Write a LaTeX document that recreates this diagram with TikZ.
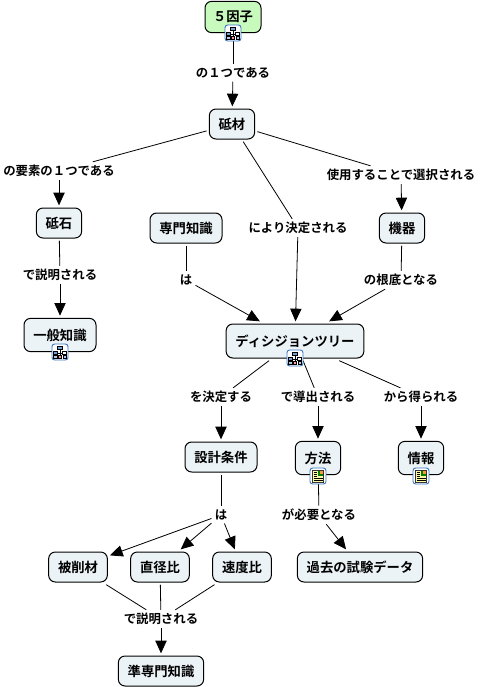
\documentclass[tikz,border=0pt]{standalone}
\usepackage{fontspec}
\setmainfont{Noto Sans CJK JP Bold}
\usetikzlibrary{arrows.meta}
\definecolor{conceptfill}{RGB}{236,243,246}
\definecolor{rootfill}{RGB}{200,250,190}
\definecolor{iconblue}{RGB}{58,118,190}
\tikzset{
  treeicon/.pic={
    \draw[iconblue,fill=white,line width=0.7pt,rounded corners=2pt] (-8,-8) rectangle (8,8);
    \draw[line width=0.4pt] (0,-3) -- (0,1) (-4.5,1) -- (4.5,1) (-4.5,1) -- (-4.5,2) (4.5,1) -- (4.5,2) (0,1) -- (0,3);
    \draw[line width=0.4pt,fill=iconblue!70] (-2.5,-6) rectangle (2.5,-3);
    \draw[line width=0.4pt,fill=iconblue!70] (-6.5,-1) rectangle (-2.5,2);
    \draw[line width=0.4pt,fill=white] (2.5,-1) rectangle (6.5,2);
    \draw[line width=0.4pt,fill=iconblue!40] (-6.5,3.5) rectangle (-3,6);
    \draw[line width=0.4pt,fill=red!40] (-1.5,3) rectangle (1.5,6);
    \draw[line width=0.4pt,fill=iconblue!40] (3,3.5) rectangle (6.5,6);
  },
  docicon/.pic={
    \draw[iconblue,fill=white,line width=0.7pt,rounded corners=2pt] (-8,-8) rectangle (8,8);
    \draw[black!80,fill=yellow!35,line width=0.4pt] (-5.5,-6) rectangle (5.5,6);
    \fill[green!50!black] (0,-5) rectangle (5,0);
    \fill[orange!80] (2,-5) rectangle (5,-2.5);
    \draw[line width=0.4pt] (-4.5,-4) -- (-1,-4) (-4.5,-2) -- (-1,-2) (-4.5,0) -- (-1,0) (-4.5,2) -- (4.5,2) (-4.5,4) -- (4.5,4);
  }
}
\begin{document}
\begin{tikzpicture}[x=0.75pt,y=-0.75pt,line width=0.6pt,
    concept/.style={draw,fill=conceptfill,rounded corners=5pt,line width=0.75pt,font=\fontsize{10}{12}\selectfont,minimum height=22.5pt,inner xsep=7pt,inner ysep=2pt,outer sep=2pt},
    linklabel/.style={font=\fontsize{9.3}{11}\selectfont,inner sep=1.5pt,outer sep=1pt},
    arrowline/.style={-{Triangle[width=8.5pt,length=9.5pt]}}]
  \useasboundingbox (0,0) rectangle (480,687);
  \node[concept,fill=rootfill,minimum height=23.5pt,inner xsep=6pt] (root) at (233,17) {５因子};
  \node[linklabel] (l1) at (233,73) {の１つである};
  \node[concept] (toizai) at (232,124) {砥材};
  \node[linklabel] (l2) at (59,171) {の要素の１つである};
  \node[linklabel] (l3) at (401,175) {使用することで選択される};
  \node[linklabel] (l4) at (298,228) {により決定される};
  \node[concept] (toishi) at (59,223) {砥石};
  \node[concept] (senmon) at (186,228) {専門知識};
  \node[concept] (kiki) at (402,228) {機器};
  \node[linklabel] (l5) at (60,275) {で説明される};
  \node[linklabel] (l6) at (186,280) {は};
  \node[linklabel] (l7) at (401,280) {の根底となる};
  \node[concept,minimum height=25pt] (ippan) at (60,335) {一般知識};
  \node[concept,minimum height=25.5pt] (tree) at (295,341) {ディシジョンツリー};
  \node[linklabel] (l8) at (221,397) {を決定する};
  \node[linklabel] (l9) at (318,397) {で導出される};
  \node[linklabel] (l10) at (421,397) {から得られる};
  \node[concept] (sekkei) at (221,457) {設計条件};
  \node[concept,minimum height=25pt] (houhou) at (318,458) {方法};
  \node[concept,minimum height=25pt] (jouhou) at (421,458) {情報};
  \node[linklabel] (l11) at (221,515) {は};
  \node[linklabel] (l12) at (319,515) {が必要となる};
  \node[concept] (hisaku) at (78,567) {被削材};
  \node[concept] (chokkei) at (160,567) {直径比};
  \node[concept] (sokudo) at (242,567) {速度比};
  \node[concept] (kako) at (360,567) {過去の試験データ};
  \node[linklabel] (l13) at (161,619) {で説明される};
  \node[concept] (jun) at (161,671) {準専門知識};
  \draw (root) -- (l1);
  \draw[arrowline] (l1) -- (toizai);
  \draw (toizai) -- (l2);
  \draw (toizai) -- (l3);
  \draw (toizai) -- (l4);
  \draw[arrowline] (l2) -- (toishi);
  \draw[arrowline] (l3) -- (kiki);
  \draw[arrowline] (l4) -- (tree);
  \draw (toishi) -- (l5);
  \draw[arrowline] (l5) -- (ippan);
  \draw (senmon) -- (l6);
  \draw[arrowline] (l6) -- (tree);
  \draw (kiki) -- (l7);
  \draw[arrowline] (l7) -- (tree);
  \draw (tree) -- (l8);
  \draw (tree) -- (l9);
  \draw (tree) -- (l10);
  \draw[arrowline] (l8) -- (sekkei);
  \draw[arrowline] (l9) -- (houhou);
  \draw[arrowline] (l10) -- (jouhou);
  \draw (sekkei) -- (l11);
  \draw[arrowline] (l11) -- (hisaku);
  \draw[arrowline] (l11) -- (chokkei);
  \draw[arrowline] (l11) -- (sokudo);
  \draw (houhou) -- (l12);
  \draw[arrowline] (l12) -- (kako);
  \draw (hisaku) -- (l13);
  \draw (chokkei) -- (l13);
  \draw (sokudo) -- (l13);
  \draw[arrowline] (l13) -- (jun);
  \pic at (233,33) {treeicon};
  \pic at (60,352) {treeicon};
  \pic at (295,358) {treeicon};
  \pic at (318,476) {docicon};
  \pic at (421,476) {docicon};
\end{tikzpicture}
\end{document}
